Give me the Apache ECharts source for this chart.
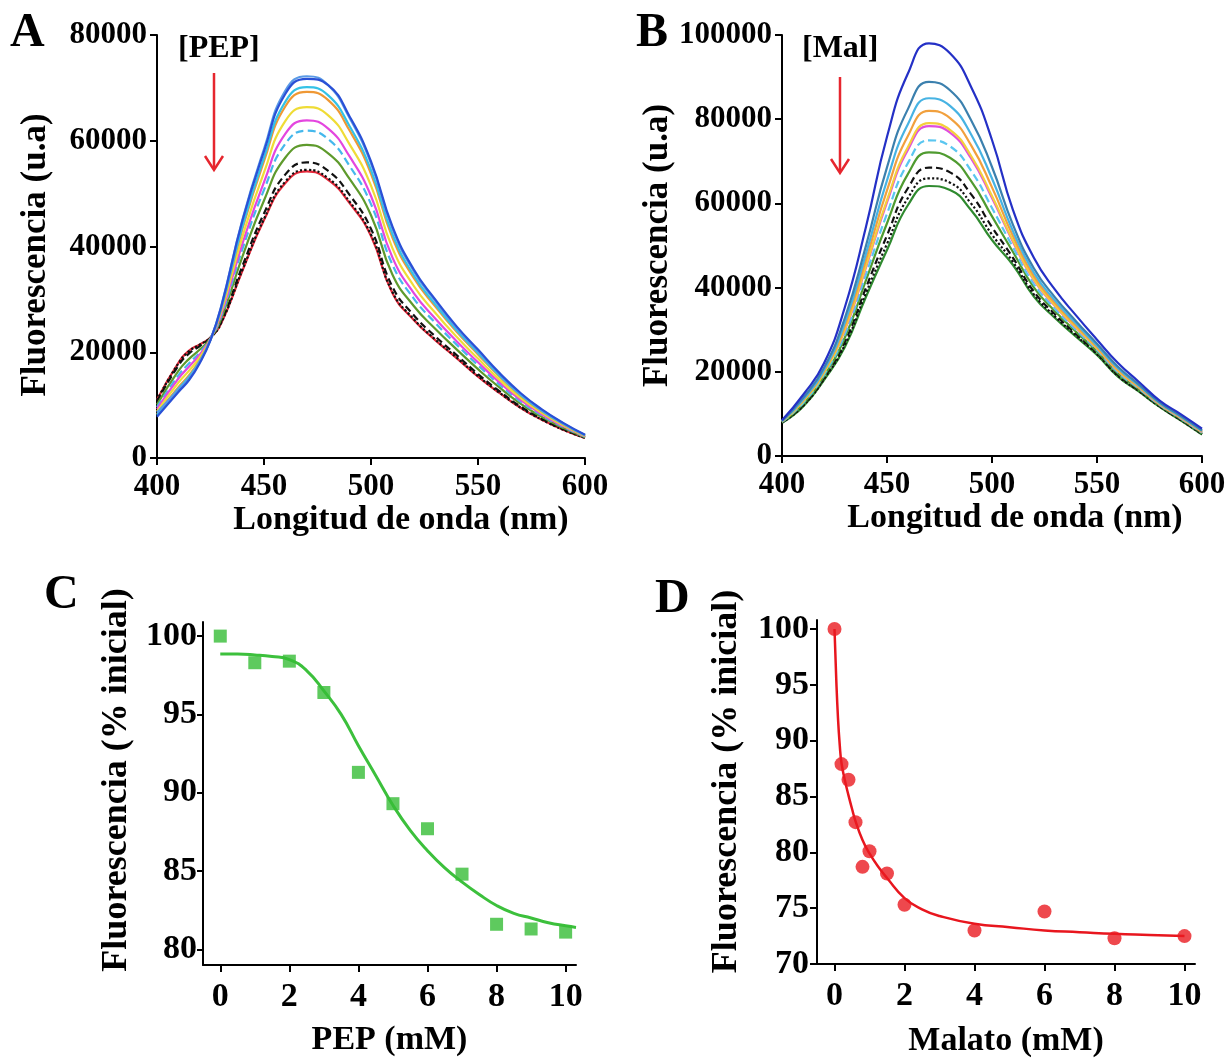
<!DOCTYPE html>
<html><head><meta charset="utf-8">
<script src="https://cdn.jsdelivr.net/npm/echarts@6/dist/echarts.min.js"></script>
<style>html,body{margin:0;padding:0;background:#fff}#c{width:1231px;height:1059px}</style>
</head><body><div id="c"></div>
<script>
// ---------- Panel A : spectra with increasing [PEP] ----------
const wlA = [400,410,415,420,425,430,440,450,460,470,480,490,500,510,520,530,540,550,560,570,580,590,600];
const A_lightBlue = [8600,12900,15100,18200,22400,28700,45200,58400,69500,72200,70500,64300,55700,43400,35300,29700,24600,20250,15900,12100,9050,6500,4350];
const A_blue      = [7800,12500,14750,17950,22300,28600,45000,58000,68900,71700,70500,64600,56100,43800,35650,30000,24900,20500,16100,12250,9150,6600,4400];
const A_cyan      = [8150,13100,15360,18340,22355,28260,43955,56790,67400,70130,68580,62750,54460,42330,34510,29060,24150,19850,15590,11900,8890,6410,4290];
const A_orange    = [8310,13380,15640,18520,22380,28100,43480,56130,66530,69240,67680,61930,53760,41700,34040,28680,23860,19600,15410,11760,8800,6350,4260];
const A_yellow    = [8820,14260,16530,19090,22460,27610,41960,54010,63760,66370,64810,59320,51520,39700,32530,27470,22910,18800,14820,11320,8490,6150,4170];
const A_magenta   = [9270,15030,17300,19580,22530,27170,40630,52160,61340,63870,62290,57030,49560,37950,31200,26400,22090,18100,14300,10940,8230,5980,4100];
const A_skyDash   = [9620,15640,17910,19970,22590,26830,39590,50700,59440,61900,60320,55230,48020,36580,30160,25570,21440,17550,13890,10630,8020,5840,4040];
const A_olive     = [10100,16460,18750,20510,22660,26370,38160,48710,56840,59210,57630,52780,45920,34700,28750,24430,20550,16800,13340,10220,7730,5650,3950];
const A_blackDash = [10700,17480,19770,21160,22750,25800,36400,46260,53640,55900,54300,49750,43330,32390,27000,23020,19460,15880,12650,9710,7380,5420,3850];
const A_blackDot  = [10950,17900,20200,21440,22790,25550,35660,45230,52290,54500,52900,48480,42240,31410,26260,22430,19000,15490,12360,9500,7230,5320,3810];
const A_red       = [11000,18000,20300,21500,22800,25500,35500,45000,52000,54200,52600,48200,42000,31200,26100,22300,18900,15400,12300,9450,7200,5300,3800];

// ---------- Panel B : spectra with increasing [Mal] ----------
const wlB = [400,410,420,430,440,450,460,470,480,490,500,510,520,530,540,550,560,570,580,590,600];
const B_blue      = [8500,14490,22010,35460,54470,75840,90900,98030,95650,87720,75060,58430,47030,39500,33400,27630,22090,17580,13100,9900,6500];
const B_steel     = [8340,13740,20940,32900,49980,68570,82450,88880,86880,79810,68650,54900,44550,37690,32030,26650,21210,16960,12700,9500,6120];
const B_lightBlue = [8270,13420,20490,31800,48070,65480,78860,84980,83150,76440,65910,53400,43490,36910,31450,26230,20840,16690,12520,9320,5960];
const B_orange    = [8220,13170,20130,30960,46590,63090,76070,81960,80260,73840,63800,52240,42670,36320,31000,25900,20550,16490,12390,9190,5840];
const B_yellow    = [8160,12930,19790,30140,45160,60770,73380,79050,77470,71320,61750,51120,41880,35740,30570,25590,20270,16290,12260,9060,5720];
const B_magenta   = [8250,13600,20300,29950,44820,60230,72760,78370,76820,70730,61280,50860,41700,35600,30470,25520,20210,16240,12230,9030,5690];
const B_skyDash   = [8090,12600,19320,29000,43160,57540,69630,74980,73570,67800,58900,49550,40780,34930,29960,25160,19880,16010,12080,8880,5550];
const B_green     = [8040,12370,18990,28200,41770,55280,67000,72130,70840,65340,56910,48450,40010,34370,29530,24850,19610,15820,11950,8750,5430];
const B_blackDash = [7980,12070,18560,27190,39990,52400,63660,68500,67370,62210,54370,47060,39030,33650,28990,24460,19260,15570,11790,8590,5280];
const B_blackDot  = [7930,11860,18260,26470,38740,50380,61310,65960,64930,60010,52580,46080,38340,33140,28610,24190,19020,15400,11680,8480,5180];
const B_darkGreen = [7900,11710,18050,25960,37840,48930,59620,64130,63180,58430,51300,45370,37840,32780,28340,23990,18840,15270,11600,8400,5100];

// ---------- Panel C : % initial fluorescence vs PEP ----------
const pepX = [0,1,2,3,4,5,6,7,8,9,10];
const pepY = [100.0,98.3,98.4,96.4,91.3,89.3,87.7,84.8,81.6,81.3,81.1];
const pepFitX = [0,0.5,1,1.5,2,2.5,3,3.5,4,4.5,5,5.5,6,6.5,7,7.5,8,8.5,9,9.5,10,10.3];
const pepFitY = [98.85,98.85,98.8,98.7,98.5,97.8,96.5,95.0,93.0,91.1,89.2,87.6,86.3,85.2,84.3,83.5,82.8,82.3,82.0,81.7,81.5,81.4];

// ---------- Panel D : % initial fluorescence vs Malato ----------
const malX = [0,0.2,0.4,0.6,0.8,1,1.5,2,4,6,8,10];
const malY = [100,87.9,86.5,82.7,78.7,80.1,78.1,75.3,73.0,74.7,72.3,72.5];
const malFitX = [0,0.05,0.1,0.15,0.2,0.3,0.4,0.5,0.6,0.8,1,1.25,1.5,2,2.5,3,4,5,6,7,8,9,10];
const malFitY = [100,95.5,92.0,89.6,88.0,86.4,85.1,83.9,82.8,81.1,79.9,78.7,77.7,75.9,74.9,74.3,73.6,73.3,73.0,72.85,72.7,72.6,72.5];

// tick labels
const ticksCD_x = [0,2,4,6,8,10];
const ticksC_y = [80,85,90,95,100];
const ticksD_y = [70,75,80,85,90,95,100];

const F = "'Liberation Serif','Times New Roman',serif";
const zip = (xs, ys) => xs.map((x, i) => [x, ys[i]]);

function axisStyle(o) {
  return Object.assign({
    type: 'value',
    splitLine: { show: false },
    axisLine: { show: true, onZero: false, lineStyle: { color: '#000', width: 2 } },
    axisTick: { show: true, inside: false, length: 7, lineStyle: { color: '#000', width: 2 } },
    nameLocation: 'middle',
    nameTextStyle: { fontFamily: F, fontWeight: 'bold', fontSize: 34, color: '#000' }
  }, o);
}
function lbl(size, margin, extra) {
  return Object.assign({ fontFamily: F, fontWeight: 'bold', fontSize: size, color: '#000', margin: margin, formatter: v => String(v) }, extra || {});
}

function spec(arrX, arr, color, gi, type, z) {
  return {
    type: 'line', xAxisIndex: gi, yAxisIndex: gi, data: zip(arrX, arr),
    showSymbol: false, smooth: 0.5, silent: true, z: z,
    lineStyle: { color: color, width: 2.2, type: type || 'solid' }
  };
}

const seriesA = [
  spec(wlA, A_red, '#e5283a', 0, 'solid', 2),
  spec(wlA, A_blackDot, '#111', 0, 'dotted', 3),
  spec(wlA, A_blackDash, '#111', 0, [7, 4], 3),
  spec(wlA, A_olive, '#5e9a2c', 0, 'solid', 3),
  spec(wlA, A_skyDash, '#45b8ec', 0, [8, 4], 3),
  spec(wlA, A_magenta, '#e446df', 0, 'solid', 3),
  spec(wlA, A_yellow, '#efdc36', 0, 'solid', 3),
  spec(wlA, A_orange, '#ef9834', 0, 'solid', 3),
  spec(wlA, A_cyan, '#34c2e6', 0, 'solid', 3),
  spec(wlA, A_lightBlue, '#5a9ae6', 0, 'solid', 4),
  spec(wlA, A_blue, '#2a50d6', 0, 'solid', 5)
];
const seriesB = [
  spec(wlB, B_darkGreen, '#2f8a2f', 1, 'solid', 2),
  spec(wlB, B_blackDot, '#111', 1, 'dotted', 3),
  spec(wlB, B_blackDash, '#111', 1, [7, 4], 3),
  spec(wlB, B_green, '#4f9b30', 1, 'solid', 3),
  spec(wlB, B_skyDash, '#5ac6f0', 1, [8, 4], 3),
  spec(wlB, B_magenta, '#e04fde', 1, 'solid', 3),
  spec(wlB, B_yellow, '#f4cf3c', 1, 'solid', 3),
  spec(wlB, B_orange, '#f1a03d', 1, 'solid', 3),
  spec(wlB, B_lightBlue, '#47b3e3', 1, 'solid', 3),
  spec(wlB, B_steel, '#3b80ae', 1, 'solid', 3),
  spec(wlB, B_blue, '#2430c6', 1, 'solid', 4)
];

const option = {
  animation: false,
  backgroundColor: '#fff',
  grid: [
    { left: 157, top: 35, width: 428, height: 423 },
    { left: 782, top: 35, width: 420, height: 421 },
    { left: 203, top: 622, width: 373, height: 343 },
    { left: 817, top: 620, width: 378, height: 347 }
  ],
  xAxis: [
    axisStyle({ gridIndex: 0, min: 400, max: 600, interval: 50, axisLabel: lbl(31, 13),
      name: 'Longitud de onda (nm)', nameGap: 38,
      nameTextStyle: { fontFamily: F, fontWeight: 'bold', fontSize: 34, color: '#000', padding: [0, 0, 0, 60] } }),
    axisStyle({ gridIndex: 1, min: 400, max: 600, interval: 50, axisLabel: lbl(31, 13),
      name: 'Longitud de onda (nm)', nameGap: 38,
      nameTextStyle: { fontFamily: F, fontWeight: 'bold', fontSize: 34, color: '#000', padding: [0, 0, 0, 46] } }),
    axisStyle({ gridIndex: 2, min: -0.5, max: 10.3,
      axisTick: { show: true, length: 7, customValues: ticksCD_x, lineStyle: { color: '#000', width: 2 } },
      axisLabel: lbl(34, 15, { customValues: ticksCD_x }),
      name: 'PEP (mM)', nameGap: 58 }),
    axisStyle({ gridIndex: 3, min: -0.5, max: 10.3,
      axisTick: { show: true, length: 7, customValues: ticksCD_x, lineStyle: { color: '#000', width: 2 } },
      axisLabel: lbl(34, 15, { customValues: ticksCD_x }),
      name: 'Malato (mM)', nameGap: 60 })
  ],
  yAxis: [
    axisStyle({ gridIndex: 0, min: 0, max: 80000, interval: 20000, axisLabel: lbl(31, 10),
      name: 'Fluorescencia (u.a)', nameGap: 104,
      nameTextStyle: { fontFamily: F, fontWeight: 'bold', fontSize: 35, color: '#000', padding: [0, 17, 0, 0] } }),
    axisStyle({ gridIndex: 1, min: 0, max: 100000, interval: 20000, axisLabel: lbl(31, 10),
      name: 'Fluorescencia (u.a)', nameGap: 104,
      nameTextStyle: { fontFamily: F, fontWeight: 'bold', fontSize: 35, color: '#000' } }),
    axisStyle({ gridIndex: 2, min: 79, max: 100.9,
      axisTick: { show: true, length: 6, customValues: ticksC_y, lineStyle: { color: '#000', width: 2 } },
      axisLabel: lbl(34, 6, { customValues: ticksC_y }),
      name: 'Fluorescencia (% inicial)', nameGap: 68,
      nameTextStyle: { fontFamily: F, fontWeight: 'bold', fontSize: 36, color: '#000', padding: [0, 0, 0, 27] } }),
    axisStyle({ gridIndex: 3, min: 70, max: 100.8,
      axisTick: { show: true, length: 7, customValues: ticksD_y, lineStyle: { color: '#000', width: 2 } },
      axisLabel: lbl(34, 8, { customValues: ticksD_y }),
      name: 'Fluorescencia (% inicial)', nameGap: 72,
      nameTextStyle: { fontFamily: F, fontWeight: 'bold', fontSize: 36, color: '#000', padding: [0, 0, 0, 21] } })
  ],
  series: seriesA.concat(seriesB).concat([
    { type: 'line', xAxisIndex: 2, yAxisIndex: 2, data: zip(pepFitX, pepFitY), showSymbol: false,
      smooth: true, lineStyle: { color: '#3cc03c', width: 3 }, z: 3 },
    { type: 'scatter', xAxisIndex: 2, yAxisIndex: 2, data: zip(pepX, pepY), symbol: 'rect',
      symbolSize: 13, itemStyle: { color: '#36bd36' }, z: 4 },
    { type: 'line', xAxisIndex: 3, yAxisIndex: 3, data: zip(malFitX, malFitY), showSymbol: false,
      smooth: true, lineStyle: { color: '#e8161e', width: 2.5 }, z: 3 },
    { type: 'scatter', xAxisIndex: 3, yAxisIndex: 3, data: zip(malX, malY), symbol: 'circle',
      symbolSize: 14, itemStyle: { color: '#ea1a20' }, z: 4 }
  ]),
  graphic: [
    { type: 'text', left: 10, top: 10, style: { text: 'A', font: "bold 48px " + F, fill: '#000' } },
    { type: 'text', left: 636, top: 10, style: { text: 'B', font: "bold 48px " + F, fill: '#000' } },
    { type: 'text', left: 44, top: 572, style: { text: 'C', font: "bold 48px " + F, fill: '#000' } },
    { type: 'text', left: 655, top: 576, style: { text: 'D', font: "bold 48px " + F, fill: '#000' } },
    { type: 'text', left: 178, top: 33, style: { text: '[PEP]', font: "bold 32px " + F, fill: '#000' } },
    { type: 'text', left: 802, top: 33, style: { text: '[Mal]', font: "bold 32px " + F, fill: '#000' } },
    { type: 'line', shape: { x1: 214, y1: 73, x2: 214, y2: 168 }, style: { stroke: '#e6262e', lineWidth: 2.5 } },
    { type: 'polyline', shape: { points: [[205, 156], [214, 170], [223, 156]] }, style: { stroke: '#e6262e', lineWidth: 2.5, fill: null } },
    { type: 'line', shape: { x1: 840, y1: 77, x2: 840, y2: 171 }, style: { stroke: '#e6262e', lineWidth: 2.5 } },
    { type: 'polyline', shape: { points: [[831, 159], [840, 173], [849, 159]] }, style: { stroke: '#e6262e', lineWidth: 2.5, fill: null } }
  ]
};

const chart = echarts.init(document.getElementById('c'), null, { renderer: 'canvas' });
chart.setOption(option);
</script>
</body></html>
